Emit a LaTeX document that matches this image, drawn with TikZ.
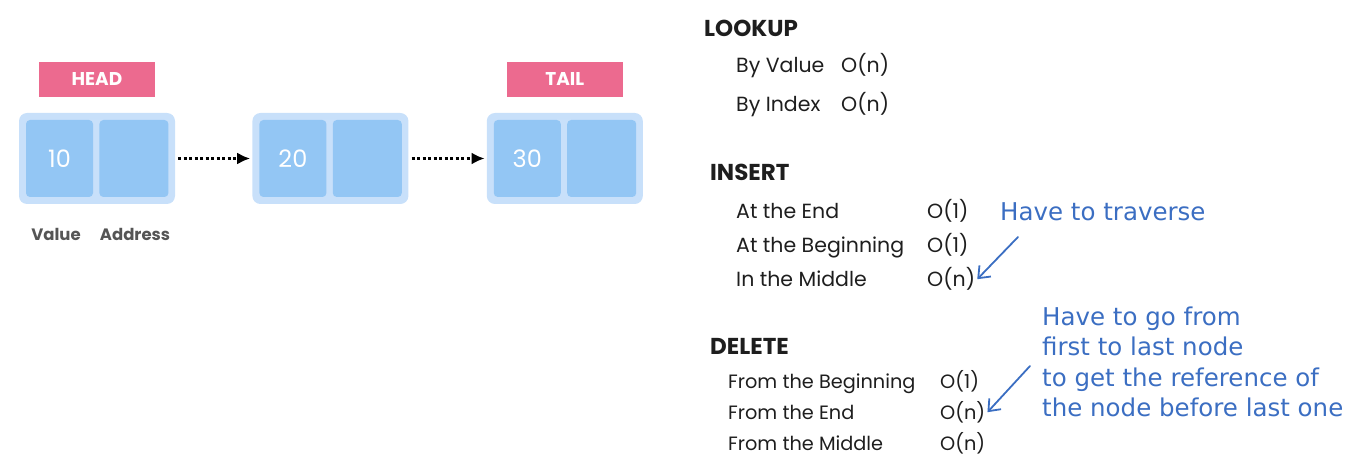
\documentclass[tikz,border=0pt]{standalone}
\usepackage{fontspec}
\setmainfont{Poppins}
\newfontfamily\notefont{DejaVu Sans}
\usetikzlibrary{arrows.meta,positioning}
\definecolor{pinkhead}{HTML}{EC6A8F}
\definecolor{boxouter}{HTML}{C8E0FA}
\definecolor{boxinner}{HTML}{93C6F4}
\definecolor{labelgray}{HTML}{555555}
\definecolor{noteblue}{HTML}{3B6EC2}
\definecolor{inkblack}{HTML}{1E1E1E}

\begin{document}
\begin{tikzpicture}[x=1pt,y=-1pt,
  tag/.style={fill=pinkhead,text=white,minimum width=116pt,minimum height=35pt,inner sep=0pt,font=\fontsize{18.5}{22}\selectfont\bfseries},
  outerbox/.style={fill=boxouter,rounded corners=8pt,minimum width=156pt,minimum height=91pt,inner sep=0pt},
  cell/.style={fill=boxinner,rounded corners=4pt,minimum height=77pt,inner sep=0pt,text=white,font=\fontsize{24}{28}\selectfont},
  caption/.style={text=labelgray,font=\fontsize{16.5}{20}\selectfont\bfseries},
  head/.style={anchor=west,inner sep=0pt,text height=0.72em,text depth=0pt,text=inkblack,font=\fontsize{23}{27}\selectfont\bfseries},
  item/.style={anchor=west,inner sep=0pt,text height=0.72em,text depth=0pt,text=inkblack,font=\fontsize{20.5}{24}\selectfont},
  ditem/.style={item,font=\fontsize{19.3}{23}\selectfont},
  note/.style={anchor=west,inner sep=0pt,text height=0.72em,text depth=0pt,text=noteblue,font=\fontsize{24.5}{28}\notefont},
  link/.style={-{Latex[length=13pt,width=12pt]},line width=3.5pt,dash pattern=on 3pt off 2.5pt},
  pointer/.style={-{Straight Barb[length=10pt,width=16pt]},noteblue,line width=1.8pt,line cap=round}
]
\useasboundingbox (0,0) rectangle (1368,462);

% linked list
\node[outerbox] (n1) at (97,158.5) {};
\node[outerbox,right=77pt of n1] (n2) {};
\node[outerbox,right=78pt of n2] (n3) {};
\node[cell,minimum width=67pt,anchor=west] (v1) at ([xshift=7pt]n1.west) {10};
\node[cell,minimum width=69pt,right=6pt of v1] (p1) {};
\node[cell,minimum width=67pt,anchor=west] (v2) at ([xshift=7pt]n2.west) {20};
\node[cell,minimum width=69pt,right=6pt of v2] (p2) {};
\node[cell,minimum width=67pt,anchor=west] (v3) at ([xshift=7pt]n3.west) {30};
\node[cell,minimum width=69pt,right=6pt of v3] (p3) {};
\node[tag,above=16pt of n1] (head) {HEAD};
\node[tag,above=16pt of n3] (tail) {TAIL};
\node[caption] (val) at (56,234) {Value};
\node[caption] (addr) at (135,234) {Address};
\draw[link] ([xshift=3pt]n1.east) -- ([xshift=-2pt]n2.west);
\draw[link] ([xshift=3pt]n2.east) -- ([xshift=-2pt]n3.west);

% lookup
\node[head] (lookup) at (704,33) {LOOKUP};
\node[item] (byval) at (736,69) {By Value};
\node[item] (byvalO) at (841,69) {O(n)};
\node[item] (byidx) at (736,108) {By Index};
\node[item] (byidxO) at (841,108) {O(n)};

% insert
\node[head] (insert) at (710,177) {INSERT};
\node[item] (iend) at (736,215) {At the End};
\node[item] (iendO) at (927,215) {O(1)};
\node[item] (ibeg) at (736,249) {At the Beginning};
\node[item] (ibegO) at (927,249) {O(1)};
\node[item] (imid) at (736,283) {In the Middle};
\node[item] (imidO) at (927,283) {O(n)};

% delete
\node[head] (delete) at (710,351) {DELETE};
\node[ditem] (dbeg) at (728,385) {From the Beginning};
\node[ditem] (dbegO) at (940,385) {O(1)};
\node[ditem] (dend) at (728,416) {From the End};
\node[ditem] (dendO) at (940,416) {O(n)};
\node[ditem] (dmid) at (728,447) {From the Middle};
\node[ditem] (dmidO) at (940,447) {O(n)};

% notes
\node[note] (trav) at (1000,217) {Have to traverse};
\node[note] (go1) at (1042,322) {Have to go from};
\node[note] (go2) at (1042,352) {first to last node};
\node[note] (go3) at (1042,383) {to get the reference of};
\node[note] (go4) at (1042,413) {the node before last one};
\coordinate (t1) at (1018,237);
\coordinate (t2) at (1030,366);
\draw[pointer] (t1) -- ([xshift=2pt]imidO.north east);
\draw[pointer] (t2) -- ([xshift=2pt]dendO.north east);
\end{tikzpicture}
\end{document}
